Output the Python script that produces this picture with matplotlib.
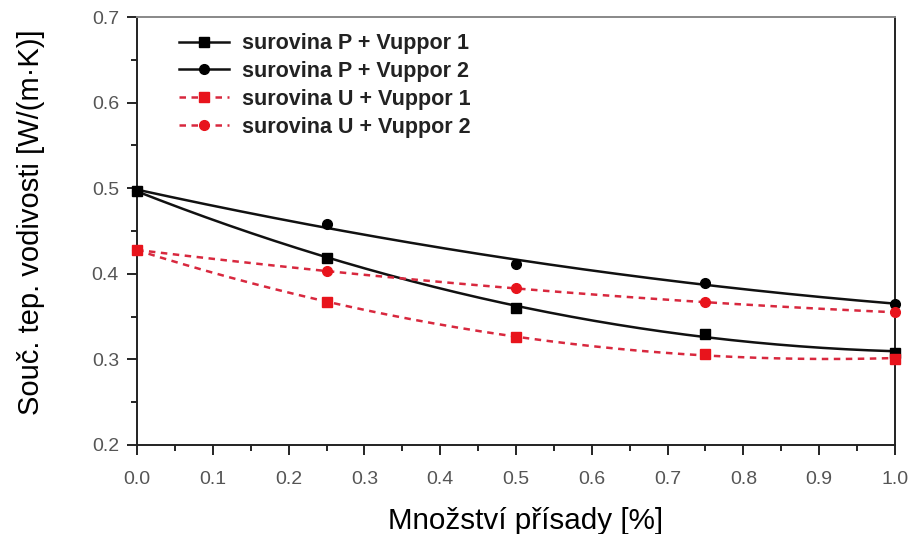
import numpy as np
import matplotlib
matplotlib.use("Agg")
import matplotlib.pyplot as plt
from matplotlib.ticker import MultipleLocator, FormatStrFormatter
from matplotlib.lines import Line2D

plt.rcParams['font.family'] = ['Liberation Sans', 'DejaVu Sans']

x = [0.0, 0.25, 0.5, 0.75, 1.0]
p_v1 = [0.497, 0.419, 0.360, 0.330, 0.308]
p_v2 = [0.497, 0.458, 0.412, 0.389, 0.365]
u_v1 = [0.428, 0.367, 0.326, 0.306, 0.301]
u_v2 = [0.428, 0.403, 0.383, 0.367, 0.355]
labels = ["surovina P + Vuppor 1", "surovina P + Vuppor 2",
          "surovina U + Vuppor 1", "surovina U + Vuppor 2"]

fig = plt.figure(figsize=(9.11, 5.34), dpi=100)
ax = fig.add_axes([0.1504, 0.1667, 0.8320, 0.8013])

xs = np.linspace(0, 1, 200)
red_m = '#e8141c'
red_l = '#d8283e'
series = [
    (p_v1, 's', 'black', '#111111', '-'),
    (p_v2, 'o', 'black', '#111111', '-'),
    (u_v1, 's', red_m, red_l, (0, (2.6, 2.2))),
    (u_v2, 'o', red_m, red_l, (0, (2.6, 2.2))),
]
handles = []
for (ys, m, mc, lc, ls), lab in zip(series, labels):
    c = np.polyfit(x, ys, 2)
    ax.plot(xs, np.polyval(c, xs), color=lc, ls=ls, lw=1.8, zorder=2)
    ms = 7.5 if m == 's' else 7
    ax.plot(x, ys, ls='none', marker=m, color=mc, markersize=ms,
            zorder=3, clip_on=False)
    handles.append(Line2D([], [], color=lc, ls=ls, lw=1.8, marker=m,
                          markerfacecolor=mc, markeredgecolor=mc,
                          markersize=ms))

ax.set_xlim(0, 1.0)
ax.set_ylim(0.2, 0.7)
ax.xaxis.set_major_locator(MultipleLocator(0.1))
ax.xaxis.set_minor_locator(MultipleLocator(0.05))
ax.yaxis.set_major_locator(MultipleLocator(0.1))
ax.yaxis.set_minor_locator(MultipleLocator(0.05))
ax.tick_params(which='major', direction='out', length=7, width=1.2,
               labelsize=14, labelcolor='#555555')
ax.tick_params(axis='x', which='major', pad=12)
ax.tick_params(axis='y', which='major', pad=6)
ax.tick_params(which='minor', direction='out', length=4, width=1.2)
ax.xaxis.set_major_formatter(FormatStrFormatter('%.1f'))
ax.yaxis.set_major_formatter(FormatStrFormatter('%.1f'))
for s in ['left', 'bottom', 'right']:
    ax.spines[s].set_linewidth(1.4)
    ax.spines[s].set_color('#222222')
ax.spines['top'].set_color('#888888')
ax.spines['top'].set_linewidth(1.4)

ax.set_xlabel("Množství přísady [%]", fontsize=21.3)
ax.set_ylabel("Souč. tep. vodivosti [W/(m·K)]", fontsize=21)
ax.xaxis.set_label_coords(0.513, -0.145)
ax.yaxis.set_label_coords(-0.122, 0.521)

leg = ax.legend(handles, labels, loc='upper left', bbox_to_anchor=(0.03, 1.008),
                frameon=False, prop={'weight': 'bold', 'size': 15.5},
                handlelength=2.3, labelspacing=0.32, handletextpad=0.6)
for t in leg.get_texts():
    t.set_color('#222222')

fig.savefig("out.png", dpi=100)
